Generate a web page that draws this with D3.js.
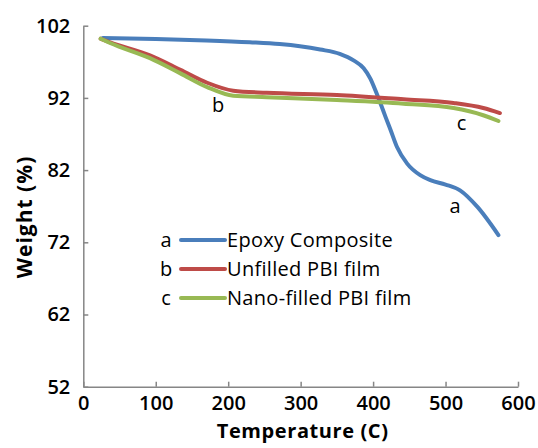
<!DOCTYPE html>
<html>
<head>
<meta charset="utf-8">
<script src="https://cdn.jsdelivr.net/npm/d3@7"></script>
<style>
  html, body { margin: 0; padding: 0; background: #fff; }
  svg { display: block; }
  text { font-family: "Open Sans", "DejaVu Sans", sans-serif; fill: #000; }
</style>
</head>
<body>
<svg id="chart" width="538" height="448"></svg>
<script>
// ---- data ----
const xTicks = [0, 100, 200, 300, 400, 500, 600];
const yTicks = [52, 62, 72, 82, 92, 102];

const epoxyT = [27, 100, 170, 230, 271, 299, 327, 354, 373, 387, 396, 403, 410, 417, 424, 433, 447, 465, 479, 500, 520, 544, 573];
const epoxyW = [100.3, 100.15, 99.95, 99.7, 99.45, 99.15, 98.7, 98.1, 97.2, 96.1, 94.7, 93.1, 91.3, 89.4, 87.6, 85.2, 82.9, 81.3, 80.6, 80.0, 79.2, 76.9, 73.0];

const unfilledT = [24, 37, 92, 134, 171, 207, 253, 350, 442, 511, 552, 575];
const unfilledW = [100.2, 99.7, 97.9, 95.9, 94.1, 93.0, 92.7, 92.4, 91.8, 91.3, 90.6, 89.9];

const nanoT = [24, 37, 92, 134, 171, 207, 253, 350, 442, 511, 552, 573];
const nanoW = [100.2, 99.6, 97.5, 95.4, 93.5, 92.3, 92.1, 91.7, 91.2, 90.6, 89.6, 88.8];

const seriesNames = ["Epoxy Composite", "Unfilled PBI film", "Nano-filled PBI film"];
const seriesKeys = ["a", "b", "c"];
const seriesColors = ["#4a7ebb", "#be4b48", "#98b954"];
// curve letter annotations (temperature, weight)
const annotT = [513, 186, 522];
const annotW = [77.0, 91.0, 88.5];

// ---- layout ----
const svg = d3.select("#chart");
const mLeft = 83.3, mRight = 518, mTop = 25.7, mBottom = 386.7;

const x = d3.scaleLinear().domain([0, 600]).range([mLeft, mRight]);
const y = d3.scaleLinear().domain([52, 102]).range([mBottom, mTop]);

const axisColor = "#868686";

const yAxis = svg.append("g").attr("transform", `translate(${mLeft},0)`)
  .call(d3.axisLeft(y).tickValues(yTicks).tickSizeInner(-5).tickSizeOuter(0).tickPadding(13).tickFormat(d3.format("d")));
const xAxis = svg.append("g").attr("transform", `translate(0,${mBottom})`)
  .call(d3.axisBottom(x).tickValues(xTicks).tickSizeInner(-5).tickSizeOuter(0).tickPadding(13).tickFormat(d3.format("d")));

[yAxis, xAxis].forEach(g => {
  g.select(".domain").attr("stroke", axisColor).attr("stroke-width", 1.5);
  g.selectAll(".tick line").attr("stroke", axisColor).attr("stroke-width", 1.5);
  g.selectAll(".tick text")
    .style("font-family", "'Open Sans', sans-serif")
    .style("font-size", "20px").style("font-weight", "600").attr("fill", "#000");
});
xAxis.selectAll(".tick text").attr("dy", "0.5em");

// axis titles
svg.append("text")
  .attr("x", (mLeft + mRight) / 2 + 2).attr("y", 431).attr("dy", "0.35em")
  .attr("text-anchor", "middle")
  .style("font-size", "20px").style("font-weight", "700").style("letter-spacing", "0.6px")
  .text("Temperature (C)");
svg.append("text")
  .attr("transform", `translate(25,217) rotate(-90)`)
  .attr("dy", "0.35em")
  .attr("text-anchor", "middle")
  .style("font-size", "21px").style("font-weight", "700").style("letter-spacing", "1px")
  .text("Weight (%)");

// lines
const line = d3.line().x(d => x(d[0])).y(d => y(d[1])).curve(d3.curveMonotoneX);
const series = [
  d3.zip(epoxyT, epoxyW),
  d3.zip(unfilledT, unfilledW),
  d3.zip(nanoT, nanoW)
];
series.forEach((s, i) => {
  svg.append("path").datum(s)
    .attr("fill", "none")
    .attr("stroke", seriesColors[i])
    .attr("stroke-width", 4)
    .attr("stroke-linecap", "round")
    .attr("stroke-linejoin", "round")
    .attr("d", line);
});

// curve annotations
seriesKeys.forEach((k, i) => {
  svg.append("text")
    .attr("x", x(annotT[i])).attr("y", y(annotW[i])).attr("dy", "0.35em")
    .attr("text-anchor", "middle")
    .style("font-size", "20px").style("font-weight", "500")
    .text(k);
});

// legend
const legY = [240, 269, 298];
seriesKeys.forEach((k, i) => {
  const g = svg.append("g").attr("transform", `translate(0,${legY[i]})`);
  g.append("text").attr("x", 166).attr("y", 0).attr("dy", "0.35em")
    .attr("text-anchor", "middle")
    .style("font-size", "20px").style("font-weight", "500").text(k);
  g.append("line").attr("x1", 181).attr("x2", 225).attr("y1", 0).attr("y2", 0)
    .attr("stroke", seriesColors[i]).attr("stroke-width", 4).attr("stroke-linecap", "round");
  g.append("text").attr("x", 227).attr("y", 0).attr("dy", "0.35em")
    .style("font-size", "20px").style("font-weight", "500").style("letter-spacing", "0.3px").text(seriesNames[i]);
});
</script>
</body>
</html>
